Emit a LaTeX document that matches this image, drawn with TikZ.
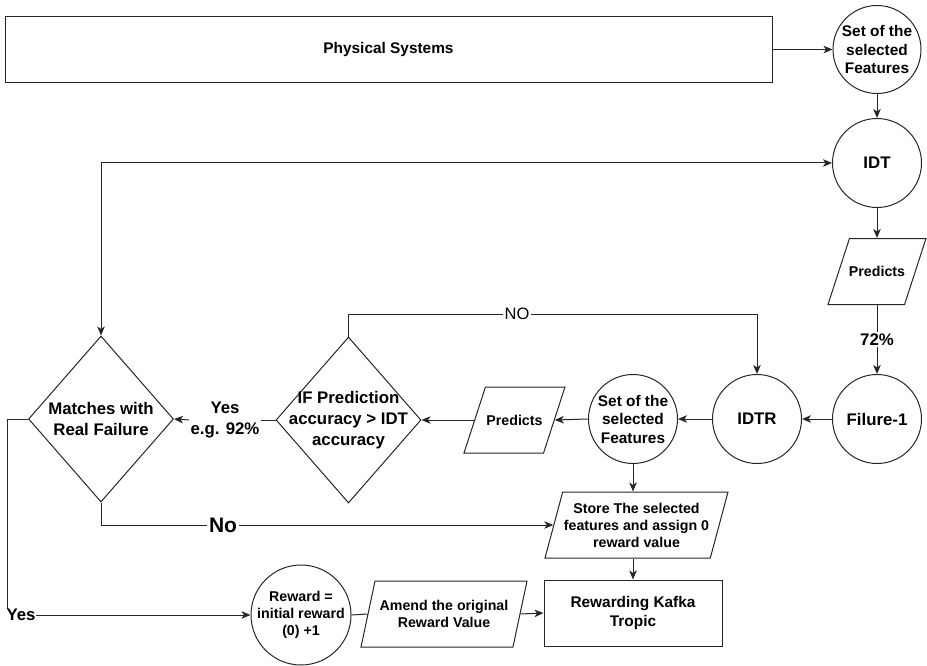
\documentclass[tikz,border=0pt]{standalone}
\usepackage{fontspec}
\setmainfont{Liberation Sans}
\usepackage{tikz}
\usetikzlibrary{shapes.geometric, arrows.meta}
\definecolor{linecol}{HTML}{262626}
\newcommand\txtbig{\fontsize{16.8}{21}\selectfont\bfseries}
\newcommand\txtmid{\fontsize{15.4}{18.5}\selectfont\bfseries}
\newcommand\txtsml{\fontsize{14.2}{17}\selectfont\bfseries}
\newcommand\txthuge{\fontsize{21}{24}\selectfont\bfseries}
\newcommand\txtreg{\fontsize{16.5}{20}\selectfont}
\tikzset{
  % plain process box
  procbox/.style={rectangle, draw=linecol, line width=1pt,
                  minimum width=#1, minimum height=66pt,
                  inner sep=0pt, align=center, font=\txtmid},
  % round step
  stateball/.style={circle, draw=linecol, line width=1pt,
                    minimum size=#1, inner sep=0pt, align=center, font=\txtbig},
  % input/output parallelogram (text goes on as a centre label)
  iobox/.style={trapezium, draw=linecol, line width=1pt,
                trapezium left angle=#1, trapezium right angle={180-#1},
                trapezium stretches body, inner sep=0pt,
                text height=33pt, text depth=33pt},
  % decision diamond (text goes on as a centre label)
  decision/.style={diamond, draw=linecol, line width=1pt, inner sep=0pt,
                   minimum width=145pt, minimum height=166pt},
  inlabel/.style={align=center, font=#1, inner sep=0pt},
  % text sitting on a connector
  edgelbl/.style={fill=white, inner sep=1.5pt, align=center, font=#1},
  arr/.style={-{Stealth[length=9pt,width=7.5pt,inset=2.5pt]}, draw=linecol, line width=1pt},
  dblarr/.style={{Stealth[length=9pt,width=7.5pt,inset=2.5pt]}-{Stealth[length=9pt,width=7.5pt,inset=2.5pt]},
                 draw=linecol, line width=1pt},
  plainline/.style={draw=linecol, line width=1pt},
}

\begin{document}
\begin{tikzpicture}[x=1pt, y=-1pt]
  \useasboundingbox (0,0) rectangle (927,666);

  % top row
  \node[procbox=767pt] (phys) at (388.5,49.5) {Physical Systems};
  \node[stateball=88pt, font=\txtmid] (settop) at (877,49.5) {Set of the\\selected\\Features};
  \node[stateball=89pt] (idt) at (877,163) {IDT};
  \node[iobox=72, minimum width=98pt,
        label={[inlabel=\txtsml]center:Predicts}] (predtop) at (877,271.5) {};

  % middle row
  \node[stateball=89pt] (filure) at (877,419) {Filure-1};
  \node[stateball=89pt] (idtr) at (757,419) {IDTR};
  \node[stateball=89pt, font=\txtmid] (setmid) at (633,419) {Set of the\\selected\\Features};
  \node[iobox=72, minimum width=101pt,
        label={[inlabel=\txtsml]center:Predicts}] (predmid) at (514.5,420) {};
  \node[decision,
        label={[inlabel=\txtbig]center:{IF Prediction\\accuracy > IDT\\accuracy}}] (ifpred) at (348.5,420) {};
  \node[decision,
        label={[inlabel=\txtbig]center:{Matches with\\Real Failure}}] (matches) at (101,419) {};

  % bottom rows
  \node[iobox=75, minimum width=183pt,
        label={[inlabel=\txtsml]center:{Store The selected\\features and assign 0\\reward value}}] (store) at (636.5,525) {};
  \node[procbox=178pt] (kafka) at (633,613) {Rewarding Kafka\\Tropic};
  \node[stateball=100pt, font=\txtsml] (reward) at (301,615) {Reward =\\initial reward\\(0) +1};
  \node[iobox=78, minimum width=166pt,
        label={[inlabel=\txtsml]center:{Amend the original\\Reward Value}}] (amend) at (444,614) {};

  % connectors
  \draw[arr] (phys.east) -- (settop.west);
  \draw[arr] (settop.south) -- (idt.north);
  \draw[arr] (idt.south) -- (predtop.north);
  \draw[arr] (predtop.south) -- (filure.north)
    node[edgelbl=\txtbig, midway] (pct) {72\%};
  \draw[arr] (filure.west) -- (idtr.east);
  \draw[arr] (idtr.west) -- (setmid.east);
  \draw[arr] (setmid.west) -- (predmid.east);
  \draw[arr] (predmid.west) -- (ifpred.east);

  \node[edgelbl=\txtbig] (yes92) at (225,420) {Yes\\e.g. 92\%};
  \draw[plainline] (ifpred.west) -- (yes92.east);
  \draw[arr] (yes92.west) -- (matches.east);

  \node[edgelbl=\txtreg] (nolbl) at (517,314) {NO};
  \draw[plainline] (ifpred.north) |- (nolbl.west);
  \draw[arr] (nolbl.east) -| (idtr.north);

  \draw[dblarr] (matches.north) |- (idt.west);

  \node[edgelbl=\txthuge] (nobig) at (223,525) {No};
  \draw[plainline] (matches.south) |- (nobig.west);
  \draw[arr] (nobig.east) -- (store.west);

  \coordinate (ycorner) at (7,419);
  \draw[arr] (matches.west) -- (ycorner) |- (reward.west);
  \node[edgelbl=\txtbig, inner sep=0.5pt] (yesbot) at (21,615) {Yes};

  \draw[arr] (setmid.south) -- (setmid.south |- store.north);
  \draw[arr] (store.south -| kafka.north) -- (kafka.north);
  \draw[plainline] (reward.east) -- (amend.west);
  \draw[arr] (amend.east) -- (kafka.west);
\end{tikzpicture}
\end{document}
